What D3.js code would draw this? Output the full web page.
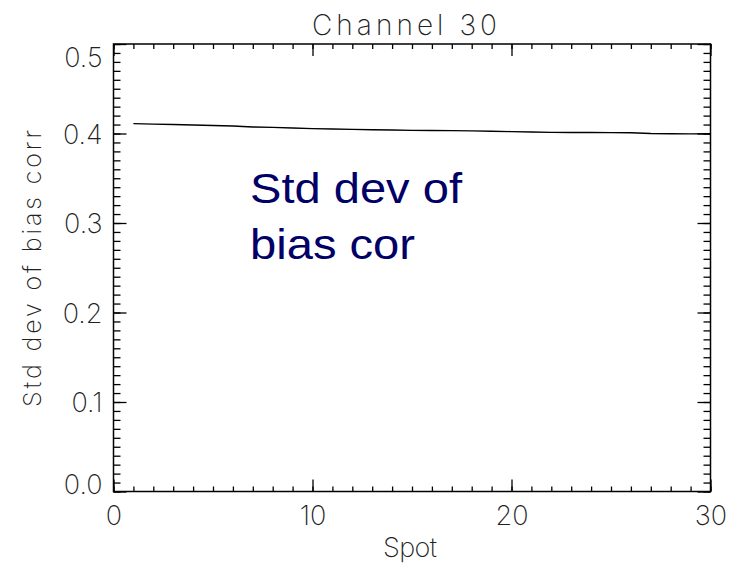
<!DOCTYPE html>
<html>
<head>
<meta charset="utf-8">
<script src="https://cdn.jsdelivr.net/npm/d3@7"></script>
<style>
  html, body { margin: 0; padding: 0; background: #fff; }
  svg { display: block; }
  .lbl { font-family: Inter, "DejaVu Sans", sans-serif; font-weight: 200; fill: #222; }
</style>
</head>
<body>
<svg id="chart" width="734" height="565"></svg>
<script>
// ---- data ----
const spots = [1,2,3,4,5,6,7,8,9,10,11,12,13,14,15,16,17,18,19,20,21,22,23,24,25,26,27,28,29,30];
const stdBiasCorr = [0.4110,0.4105,0.4100,0.4095,0.4090,0.4083,0.4073,0.4068,0.4062,0.4055,
                     0.4050,0.4046,0.4042,0.4039,0.4035,0.4034,0.4032,0.4029,0.4025,0.4021,
                     0.4017,0.4013,0.4012,0.4011,0.4010,0.4008,0.4000,0.3998,0.3996,0.3998];
const xMajorTicks = [0,10,20,30];
const yMajorTicks = [0.0,0.1,0.2,0.3,0.4,0.5];
const titleText = "Channel 30";
const xLabel = "Spot";
const yLabel = "Std dev of bias corr";
const noteLines = ["Std dev of", "bias cor"];

// ---- layout ----
const svg = d3.select("#chart");
const L = 113.5, R = 710.5, T = 44, B = 491.5;
const x = d3.scaleLinear().domain([0,30]).range([L,R]);
const y = d3.scaleLinear().domain([0,0.5]).range([B,T]);

const xMinor = d3.range(0,31,1);
const yMinor = d3.range(0,51,1).map(v => v/100);

function styleAxis(g){
  g.select(".domain").remove();
  g.selectAll(".tick line").attr("stroke","#000").attr("stroke-width",1.3);
}

// minor ticks
svg.append("g").attr("transform",`translate(0,${B})`)
  .call(d3.axisBottom(x).tickValues(xMinor).tickSize(-5).tickFormat("")).call(styleAxis);
svg.append("g").attr("transform",`translate(0,${T})`)
  .call(d3.axisTop(x).tickValues(xMinor).tickSize(-5).tickFormat("")).call(styleAxis);
svg.append("g").attr("transform",`translate(${L},0)`)
  .call(d3.axisLeft(y).tickValues(yMinor).tickSize(-7).tickFormat("")).call(styleAxis);
svg.append("g").attr("transform",`translate(${R},0)`)
  .call(d3.axisRight(y).tickValues(yMinor).tickSize(-7).tickFormat("")).call(styleAxis);

// major ticks with labels
const xb = svg.append("g").attr("transform",`translate(0,${B})`)
  .call(d3.axisBottom(x).tickValues(xMajorTicks).tickSize(-12).tickPadding(14).tickFormat(d3.format("d")));
styleAxis(xb);
xb.selectAll("text").attr("class","lbl").attr("font-size",27).attr("dy","0.71em").attr("y",14);
svg.append("g").attr("transform",`translate(0,${T})`)
  .call(d3.axisTop(x).tickValues(xMajorTicks).tickSize(-12).tickFormat("")).call(styleAxis);
const yl = svg.append("g").attr("transform",`translate(${L},0)`)
  .call(d3.axisLeft(y).tickValues(yMajorTicks).tickSize(-13).tickPadding(11).tickFormat(d3.format(".1f")));
styleAxis(yl);
yl.selectAll("text").attr("class","lbl").attr("font-size",27).attr("x",-11).attr("dy","0.36em")
  .attr("y", d => d === 0.5 ? 12.5 : (d === 0 ? -8 : 0));
svg.append("g").attr("transform",`translate(${R},0)`)
  .call(d3.axisRight(y).tickValues(yMajorTicks).tickSize(-13).tickFormat("")).call(styleAxis);

// frame
svg.append("rect").attr("x",L).attr("y",T).attr("width",R-L).attr("height",B-T)
  .attr("fill","none").attr("stroke","#000").attr("stroke-width",1.5);

// data line
const line = d3.line().x((d,i)=>x(spots[i])).y(d=>y(d));
svg.append("path").datum(stdBiasCorr).attr("d",line)
  .attr("fill","none").attr("stroke","#000").attr("stroke-width",1.4);

// titles
svg.append("text").attr("class","lbl").attr("x",312).attr("y",35)
  .attr("font-size",28).attr("textLength",185).attr("lengthAdjust","spacing").text(titleText);
svg.append("text").attr("class","lbl").attr("x",383).attr("y",557)
  .attr("font-size",27).attr("textLength",54).attr("lengthAdjust","spacing").text(xLabel);
svg.append("text").attr("class","lbl").attr("transform","translate(41,407) rotate(-90)")
  .attr("font-size",25).attr("textLength",277).attr("lengthAdjust","spacing").text(yLabel);

// annotation
const note = svg.append("text").attr("font-family","'Liberation Sans', Arial, sans-serif")
  .attr("font-size",43).attr("fill","#000066");
note.append("tspan").attr("x",250).attr("y",203).attr("textLength",212).attr("lengthAdjust","spacingAndGlyphs").text(noteLines[0]);
note.append("tspan").attr("x",250).attr("y",259).attr("textLength",165).attr("lengthAdjust","spacingAndGlyphs").text(noteLines[1]);
</script>
</body>
</html>
